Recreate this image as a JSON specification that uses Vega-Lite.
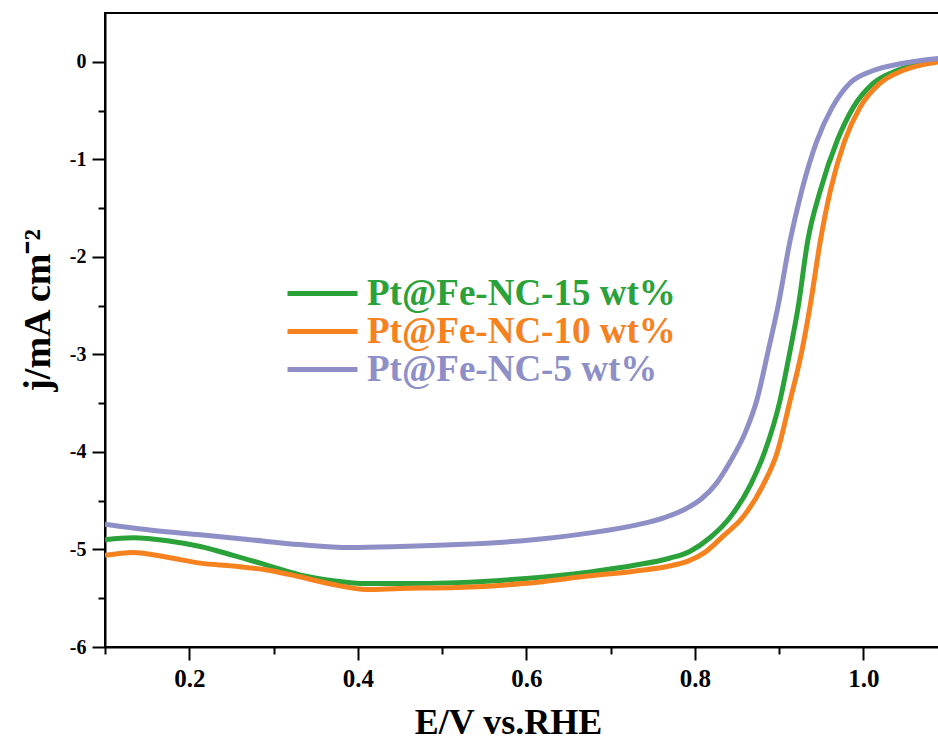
{
  "$schema": "https://vega.github.io/schema/vega-lite/v6.json",
  "width": 834,
  "height": 634,
  "autosize": {"type": "none"},
  "padding": {"left": 105, "top": 13, "right": 0, "bottom": 93},
  "background": "white",
  "config": {
    "view": {"stroke": "black", "strokeWidth": 2},
    "font": "Liberation Serif",
    "axis": {"grid": false, "domainColor": "black", "domainWidth": 2, "tickColor": "black", "tickWidth": 2, "labelColor": "black", "titleColor": "black", "labelFont": "Liberation Serif", "titleFont": "Liberation Serif", "labelFontWeight": "bold", "titleFontWeight": "bold"}
  },
  "datasets": {
    "curves": [
      {"sample": "Pt@Fe-NC-15 wt%", "E": 0.100, "j": -4.90},
      {"sample": "Pt@Fe-NC-15 wt%", "E": 0.133, "j": -4.88},
      {"sample": "Pt@Fe-NC-15 wt%", "E": 0.174, "j": -4.91},
      {"sample": "Pt@Fe-NC-15 wt%", "E": 0.213, "j": -4.97},
      {"sample": "Pt@Fe-NC-15 wt%", "E": 0.252, "j": -5.06},
      {"sample": "Pt@Fe-NC-15 wt%", "E": 0.292, "j": -5.16},
      {"sample": "Pt@Fe-NC-15 wt%", "E": 0.331, "j": -5.26},
      {"sample": "Pt@Fe-NC-15 wt%", "E": 0.371, "j": -5.32},
      {"sample": "Pt@Fe-NC-15 wt%", "E": 0.411, "j": -5.35},
      {"sample": "Pt@Fe-NC-15 wt%", "E": 0.450, "j": -5.35},
      {"sample": "Pt@Fe-NC-15 wt%", "E": 0.518, "j": -5.34},
      {"sample": "Pt@Fe-NC-15 wt%", "E": 0.596, "j": -5.30},
      {"sample": "Pt@Fe-NC-15 wt%", "E": 0.676, "j": -5.23},
      {"sample": "Pt@Fe-NC-15 wt%", "E": 0.730, "j": -5.16},
      {"sample": "Pt@Fe-NC-15 wt%", "E": 0.770, "j": -5.09},
      {"sample": "Pt@Fe-NC-15 wt%", "E": 0.794, "j": -5.02},
      {"sample": "Pt@Fe-NC-15 wt%", "E": 0.818, "j": -4.88},
      {"sample": "Pt@Fe-NC-15 wt%", "E": 0.842, "j": -4.67},
      {"sample": "Pt@Fe-NC-15 wt%", "E": 0.866, "j": -4.34},
      {"sample": "Pt@Fe-NC-15 wt%", "E": 0.883, "j": -4.00},
      {"sample": "Pt@Fe-NC-15 wt%", "E": 0.901, "j": -3.48},
      {"sample": "Pt@Fe-NC-15 wt%", "E": 0.913, "j": -2.97},
      {"sample": "Pt@Fe-NC-15 wt%", "E": 0.923, "j": -2.50},
      {"sample": "Pt@Fe-NC-15 wt%", "E": 0.934, "j": -1.84},
      {"sample": "Pt@Fe-NC-15 wt%", "E": 0.949, "j": -1.32},
      {"sample": "Pt@Fe-NC-15 wt%", "E": 0.969, "j": -0.81},
      {"sample": "Pt@Fe-NC-15 wt%", "E": 0.988, "j": -0.47},
      {"sample": "Pt@Fe-NC-15 wt%", "E": 1.012, "j": -0.22},
      {"sample": "Pt@Fe-NC-15 wt%", "E": 1.040, "j": -0.09},
      {"sample": "Pt@Fe-NC-15 wt%", "E": 1.090, "j": 0.02},
      {"sample": "Pt@Fe-NC-10 wt%", "E": 0.100, "j": -5.06},
      {"sample": "Pt@Fe-NC-10 wt%", "E": 0.133, "j": -5.03},
      {"sample": "Pt@Fe-NC-10 wt%", "E": 0.174, "j": -5.08},
      {"sample": "Pt@Fe-NC-10 wt%", "E": 0.213, "j": -5.14},
      {"sample": "Pt@Fe-NC-10 wt%", "E": 0.252, "j": -5.17},
      {"sample": "Pt@Fe-NC-10 wt%", "E": 0.292, "j": -5.21},
      {"sample": "Pt@Fe-NC-10 wt%", "E": 0.331, "j": -5.28},
      {"sample": "Pt@Fe-NC-10 wt%", "E": 0.371, "j": -5.36},
      {"sample": "Pt@Fe-NC-10 wt%", "E": 0.411, "j": -5.41},
      {"sample": "Pt@Fe-NC-10 wt%", "E": 0.450, "j": -5.40},
      {"sample": "Pt@Fe-NC-10 wt%", "E": 0.518, "j": -5.39},
      {"sample": "Pt@Fe-NC-10 wt%", "E": 0.596, "j": -5.35},
      {"sample": "Pt@Fe-NC-10 wt%", "E": 0.676, "j": -5.27},
      {"sample": "Pt@Fe-NC-10 wt%", "E": 0.730, "j": -5.22},
      {"sample": "Pt@Fe-NC-10 wt%", "E": 0.770, "j": -5.17},
      {"sample": "Pt@Fe-NC-10 wt%", "E": 0.792, "j": -5.12},
      {"sample": "Pt@Fe-NC-10 wt%", "E": 0.812, "j": -5.03},
      {"sample": "Pt@Fe-NC-10 wt%", "E": 0.834, "j": -4.86},
      {"sample": "Pt@Fe-NC-10 wt%", "E": 0.857, "j": -4.67},
      {"sample": "Pt@Fe-NC-10 wt%", "E": 0.881, "j": -4.34},
      {"sample": "Pt@Fe-NC-10 wt%", "E": 0.898, "j": -4.00},
      {"sample": "Pt@Fe-NC-10 wt%", "E": 0.913, "j": -3.48},
      {"sample": "Pt@Fe-NC-10 wt%", "E": 0.927, "j": -2.97},
      {"sample": "Pt@Fe-NC-10 wt%", "E": 0.937, "j": -2.50},
      {"sample": "Pt@Fe-NC-10 wt%", "E": 0.949, "j": -1.84},
      {"sample": "Pt@Fe-NC-10 wt%", "E": 0.961, "j": -1.32},
      {"sample": "Pt@Fe-NC-10 wt%", "E": 0.978, "j": -0.81},
      {"sample": "Pt@Fe-NC-10 wt%", "E": 0.996, "j": -0.47},
      {"sample": "Pt@Fe-NC-10 wt%", "E": 1.020, "j": -0.22},
      {"sample": "Pt@Fe-NC-10 wt%", "E": 1.047, "j": -0.09},
      {"sample": "Pt@Fe-NC-10 wt%", "E": 1.090, "j": 0.00},
      {"sample": "Pt@Fe-NC-5 wt%", "E": 0.100, "j": -4.74},
      {"sample": "Pt@Fe-NC-5 wt%", "E": 0.153, "j": -4.80},
      {"sample": "Pt@Fe-NC-5 wt%", "E": 0.213, "j": -4.85},
      {"sample": "Pt@Fe-NC-5 wt%", "E": 0.272, "j": -4.90},
      {"sample": "Pt@Fe-NC-5 wt%", "E": 0.331, "j": -4.95},
      {"sample": "Pt@Fe-NC-5 wt%", "E": 0.391, "j": -4.98},
      {"sample": "Pt@Fe-NC-5 wt%", "E": 0.450, "j": -4.97},
      {"sample": "Pt@Fe-NC-5 wt%", "E": 0.518, "j": -4.95},
      {"sample": "Pt@Fe-NC-5 wt%", "E": 0.596, "j": -4.91},
      {"sample": "Pt@Fe-NC-5 wt%", "E": 0.676, "j": -4.83},
      {"sample": "Pt@Fe-NC-5 wt%", "E": 0.730, "j": -4.75},
      {"sample": "Pt@Fe-NC-5 wt%", "E": 0.765, "j": -4.67},
      {"sample": "Pt@Fe-NC-5 wt%", "E": 0.790, "j": -4.58},
      {"sample": "Pt@Fe-NC-5 wt%", "E": 0.808, "j": -4.48},
      {"sample": "Pt@Fe-NC-5 wt%", "E": 0.825, "j": -4.33},
      {"sample": "Pt@Fe-NC-5 wt%", "E": 0.842, "j": -4.10},
      {"sample": "Pt@Fe-NC-5 wt%", "E": 0.860, "j": -3.80},
      {"sample": "Pt@Fe-NC-5 wt%", "E": 0.874, "j": -3.46},
      {"sample": "Pt@Fe-NC-5 wt%", "E": 0.887, "j": -2.97},
      {"sample": "Pt@Fe-NC-5 wt%", "E": 0.899, "j": -2.50},
      {"sample": "Pt@Fe-NC-5 wt%", "E": 0.913, "j": -1.84},
      {"sample": "Pt@Fe-NC-5 wt%", "E": 0.927, "j": -1.32},
      {"sample": "Pt@Fe-NC-5 wt%", "E": 0.945, "j": -0.81},
      {"sample": "Pt@Fe-NC-5 wt%", "E": 0.963, "j": -0.47},
      {"sample": "Pt@Fe-NC-5 wt%", "E": 0.984, "j": -0.22},
      {"sample": "Pt@Fe-NC-5 wt%", "E": 1.012, "j": -0.09},
      {"sample": "Pt@Fe-NC-5 wt%", "E": 1.044, "j": -0.02},
      {"sample": "Pt@Fe-NC-5 wt%", "E": 1.090, "j": 0.035}
    ]
  },
  "data": {"name": "curves"},
  "layer": [
    {
      "mark": {"type": "line", "strokeWidth": 5, "clip": true, "interpolate": "monotone"},
      "encoding": {
        "x": {
          "field": "E", "type": "quantitative",
          "scale": {"domain": [0.1, 1.0899], "nice": false, "zero": false},
          "axis": {"orient": "bottom", "values": [0.2, 0.4, 0.6, 0.8, 1.0], "format": ".1f", "tickSize": 13, "labelFontSize": 25, "labelPadding": 6, "title": "E/V vs.RHE", "titleFontSize": 36, "titleX": 403, "titleY": 86, "titleBaseline": "alphabetic", "titleAnchor": null}
        },
        "y": {
          "field": "j", "type": "quantitative",
          "scale": {"domain": [-6, 0.5], "nice": false, "zero": false},
          "axis": {"orient": "left", "values": [0, -1, -2, -3, -4, -5, -6], "labelExpr": "format(datum.value, 'd') == '0' ? '0' : '-' + format(abs(datum.value), 'd')", "tickSize": 13, "labelFontSize": 20, "labelPadding": 6, "title": "j/mA cm⁻²", "titleFontSize": 38, "titleX": -48, "titleY": 297, "titleAngle": -90}
        },
        "color": {
          "field": "sample", "type": "nominal",
          "scale": {"domain": ["Pt@Fe-NC-15 wt%", "Pt@Fe-NC-10 wt%", "Pt@Fe-NC-5 wt%"], "range": ["#2ba13a", "#f5821f", "#8f8fc8"]},
          "legend": {
            "orient": "none", "legendX": 199, "legendY": 262, "title": null, "padding": 0,
            "symbolType": "M-5,0H5", "symbolSize": 196, "symbolStrokeWidth": 5,
            "labelFontSize": 37, "labelFont": "Liberation Serif", "labelFontWeight": "bold", "labelOffset": 26, "labelLimit": 600, "rowPadding": 0,
            "encode": {"labels": {"update": {"fill": {"scale": "color", "field": "value"}}}}
          }
        }
      }
    },
    {
      "mark": {"type": "point", "opacity": 0},
      "encoding": {
        "x": {"field": "E", "type": "quantitative", "axis": {"orient": "bottom", "values": [0.1, 0.3, 0.5, 0.7, 0.9], "labels": false, "domain": false, "tickSize": 7, "title": null}},
        "y": {"field": "j", "type": "quantitative", "axis": {"orient": "left", "values": [-0.5, -1.5, -2.5, -3.5, -4.5, -5.5], "labels": false, "domain": false, "tickSize": 7, "title": null}}
      }
    }
  ],
  "resolve": {"axis": {"x": "independent", "y": "independent"}}
}
